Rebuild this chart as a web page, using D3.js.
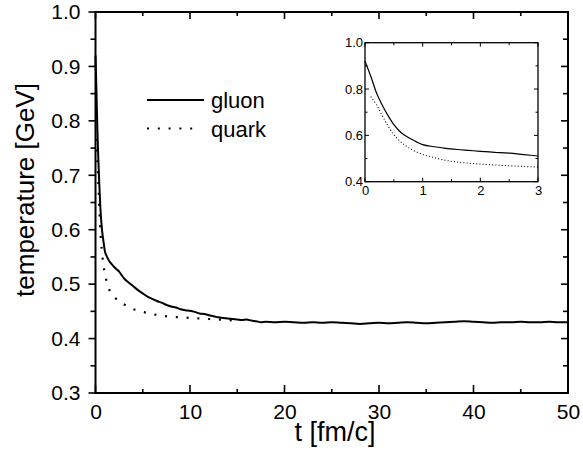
<!DOCTYPE html>
<html>
<head>
<meta charset="utf-8">
<script src="https://cdn.jsdelivr.net/npm/d3@7"></script>
<style>
  body { margin: 0; background: #fff; }
  svg { display: block; }
  svg text { font-family: "Liberation Sans", Arial, sans-serif; fill: #000; }
  .domain { display: none; }
</style>
</head>
<body>
<div id="chart"></div>
<script>
// gluon temperature vs time
const gluonT = [0, 0.1, 0.2, 0.3, 0.4, 0.5, 0.6, 0.7, 0.8, 0.9, 1.0, 1.2, 1.4, 1.6, 1.8, 2.0, 2.25, 2.5, 2.75, 3.0,
  3.5, 4, 4.5, 5, 5.5, 6, 6.5, 7, 7.5, 8, 8.5, 9, 9.5, 10, 10.5, 11, 11.5, 12, 12.5, 13, 13.5, 14, 14.5, 15,
  15.5, 16, 16.5, 17, 17.5, 18, 19, 20, 21, 22, 23, 24, 25, 26, 27, 28, 29, 30, 31, 32, 33, 34, 35, 36, 37,
  38, 39, 40, 41, 42, 43, 44, 45, 46, 47, 48, 49, 50];
const gluonTemp = [0.92, 0.855, 0.783, 0.73, 0.685, 0.646, 0.618, 0.598, 0.584, 0.571, 0.560, 0.551, 0.544, 0.539, 0.535, 0.531, 0.527, 0.523, 0.517, 0.511,
  0.503, 0.496, 0.489, 0.483, 0.477, 0.473, 0.469, 0.466, 0.462, 0.459, 0.457, 0.454, 0.452, 0.451, 0.449, 0.446, 0.445, 0.443, 0.441, 0.439, 0.438, 0.437, 0.436, 0.435,
  0.434, 0.435, 0.433, 0.432, 0.430, 0.431, 0.430, 0.431, 0.430, 0.429, 0.430, 0.429, 0.430, 0.429, 0.428, 0.427, 0.428, 0.429, 0.428, 0.429, 0.430, 0.429, 0.428, 0.429, 0.430,
  0.431, 0.432, 0.431, 0.430, 0.429, 0.430, 0.430, 0.431, 0.430, 0.430, 0.431, 0.430, 0.430];

// quark temperature vs time
const quarkT = [0.1, 0.2, 0.3, 0.4, 0.5, 0.6, 0.7, 0.8, 0.9, 1.0, 1.2, 1.4, 1.6, 1.8, 2.0, 2.5, 3.0, 3.5, 4, 5, 6, 7, 8, 9, 10, 11, 12, 13, 14, 15];
const quarkTemp = [0.767, 0.732, 0.685, 0.64, 0.603, 0.576, 0.556, 0.540, 0.528, 0.518, 0.504, 0.492, 0.485, 0.480, 0.476, 0.469, 0.463, 0.458, 0.454, 0.449, 0.445, 0.442, 0.440, 0.439, 0.438, 0.437, 0.436, 0.435, 0.434, 0.433];

const xTicks = [0, 10, 20, 30, 40, 50];
const xMinor = [5, 15, 25, 35, 45];
const yTicks = [0.3, 0.4, 0.5, 0.6, 0.7, 0.8, 0.9, 1.0];
const yMinor = [0.35, 0.45, 0.55, 0.65, 0.75, 0.85, 0.95];

const insetXTicks = [0, 1, 2, 3];
const insetXMinor = [0.5, 1.5, 2.5];
const insetYTicks = [0.4, 0.6, 0.8, 1.0];
const insetYMinor = [0.5, 0.7, 0.9];

const legendItems = [
  { name: 'gluon', dash: null, len: 57 },
  { name: 'quark', dash: '2,8.8', len: 47 }
];

const gluon = gluonT.map((t, i) => ({ t, v: gluonTemp[i] }));
const quark = quarkT.map((t, i) => ({ t, v: quarkTemp[i] }));

const width = 583, height = 467;
const plot = { left: 95.5, right: 568, top: 12, bottom: 393 };

const svg = d3.select('#chart').append('svg')
  .attr('width', width)
  .attr('height', height);

const x = d3.scaleLinear().domain([0, 50]).range([plot.left, plot.right]);
const y = d3.scaleLinear().domain([0.3, 1.0]).range([plot.bottom, plot.top]);

// tick marks drawn as plain lines from the scales
// len > 0 points into the plot, < 0 points out
function drawTicks(parent, scale, values, side, pos, len, sw) {
  const vertical = side === 'left' || side === 'right';
  const dir = (side === 'left' || side === 'top') ? 1 : -1;
  parent.append('g').selectAll('line')
    .data(values)
    .join('line')
    .attr('x1', d => vertical ? pos : scale(d))
    .attr('x2', d => vertical ? pos + dir * len : scale(d))
    .attr('y1', d => vertical ? scale(d) : pos)
    .attr('y2', d => vertical ? scale(d) : pos + dir * len)
    .attr('stroke', '#000')
    .attr('stroke-width', sw);
}

function labels(parent, axis, tx, ty, size) {
  parent.append('g').attr('transform', `translate(${tx},${ty})`)
    .call(axis)
    .attr('font-family', null)
    .call(g => g.selectAll('.tick line').remove())
    .call(g => g.selectAll('.tick text').style('font-size', size + 'px'));
}

// frame
svg.append('rect')
  .attr('x', plot.left).attr('y', plot.top)
  .attr('width', plot.right - plot.left).attr('height', plot.bottom - plot.top)
  .attr('fill', 'none').attr('stroke', '#000').attr('stroke-width', 2);

// main ticks: left outward, the rest inward
drawTicks(svg, y, yTicks, 'left', plot.left, -7, 1.6);
drawTicks(svg, y, yMinor, 'left', plot.left, -5, 1.6);
drawTicks(svg, y, yTicks, 'right', plot.right, 7, 1.6);
drawTicks(svg, y, yMinor, 'right', plot.right, 5, 1.6);
drawTicks(svg, x, xTicks, 'bottom', plot.bottom, 8, 1.6);
drawTicks(svg, x, xMinor, 'bottom', plot.bottom, 4, 1.6);
drawTicks(svg, x, xTicks, 'top', plot.top, 7, 1.6);
drawTicks(svg, x, xMinor, 'top', plot.top, 4, 1.6);

labels(svg, d3.axisLeft(y).tickValues(yTicks).tickSize(7).tickPadding(8).tickFormat(d3.format('.1f')), plot.left, 0, 21);
labels(svg, d3.axisBottom(x).tickValues(xTicks).tickSize(0).tickPadding(11).tickFormat(d3.format('d')), 0, plot.bottom, 21);

// axis titles
svg.append('text')
  .attr('transform', 'translate(34,190) rotate(-90)')
  .attr('text-anchor', 'middle')
  .style('font-size', '26px')
  .text('temperature [GeV]');

svg.append('text')
  .attr('x', 335).attr('y', 441)
  .attr('text-anchor', 'middle')
  .style('font-size', '27px')
  .text('t [fm/c]');

// curves
const line = d3.line().x(d => x(d.t)).y(d => y(d.v)).curve(d3.curveMonotoneX);

svg.append('path').datum(quark)
  .attr('d', line)
  .attr('fill', 'none').attr('stroke', '#000').attr('stroke-width', 2.2)
  .attr('stroke-dasharray', '2,8.8');

svg.append('path').datum(gluon)
  .attr('d', line)
  .attr('fill', 'none').attr('stroke', '#000').attr('stroke-width', 2)
  .attr('stroke-linejoin', 'round');

// legend
const legend = svg.append('g').attr('transform', 'translate(147,100)');
legendItems.forEach((item, i) => {
  const row = legend.append('g').attr('transform', `translate(0,${i * 28.5})`);
  row.append('line')
    .attr('x1', 0).attr('x2', item.len)
    .attr('stroke', '#000').attr('stroke-width', 2)
    .attr('stroke-dasharray', item.dash);
  row.append('text')
    .attr('x', 64).attr('y', 8)
    .style('font-size', '22px')
    .text(item.name);
});

// inset
const inset = { left: 365, right: 538, top: 42.7, bottom: 181.7 };
const ix = d3.scaleLinear().domain([0, 3]).range([inset.left, inset.right]);
const iy = d3.scaleLinear().domain([0.4, 1.0]).range([inset.bottom, inset.top]);

const ig = svg.append('g');
ig.append('rect')
  .attr('x', inset.left).attr('y', inset.top)
  .attr('width', inset.right - inset.left).attr('height', inset.bottom - inset.top)
  .attr('fill', '#fff').attr('stroke', '#000').attr('stroke-width', 1.3);

drawTicks(ig, iy, insetYTicks, 'left', inset.left, 4, 1);
drawTicks(ig, iy, insetYMinor, 'left', inset.left, 2.5, 1);
drawTicks(ig, iy, insetYTicks, 'right', inset.right, 4, 1);
drawTicks(ig, iy, insetYMinor, 'right', inset.right, 2.5, 1);
drawTicks(ig, ix, insetXTicks, 'bottom', inset.bottom, 4, 1);
drawTicks(ig, ix, insetXMinor, 'bottom', inset.bottom, 2.5, 1);
drawTicks(ig, ix, insetXTicks, 'top', inset.top, 4, 1);
drawTicks(ig, ix, insetXMinor, 'top', inset.top, 2.5, 1);

labels(ig, d3.axisLeft(iy).tickValues(insetYTicks).tickSize(0).tickPadding(2).tickFormat(d3.format('.1f')), inset.left, 0, 13);
labels(ig, d3.axisBottom(ix).tickValues(insetXTicks).tickSize(0).tickPadding(4).tickFormat(d3.format('d')), 0, inset.bottom, 13);

const iline = d3.line().x(d => ix(d.t)).y(d => iy(d.v)).curve(d3.curveMonotoneX);

ig.append('path').datum(quark.filter(d => d.t <= 3))
  .attr('d', iline)
  .attr('fill', 'none').attr('stroke', '#000').attr('stroke-width', 1.1)
  .attr('stroke-dasharray', '1,2.2');

ig.append('path').datum(gluon.filter(d => d.t <= 3))
  .attr('d', iline)
  .attr('fill', 'none').attr('stroke', '#000').attr('stroke-width', 1.2);
</script>
</body>
</html>
